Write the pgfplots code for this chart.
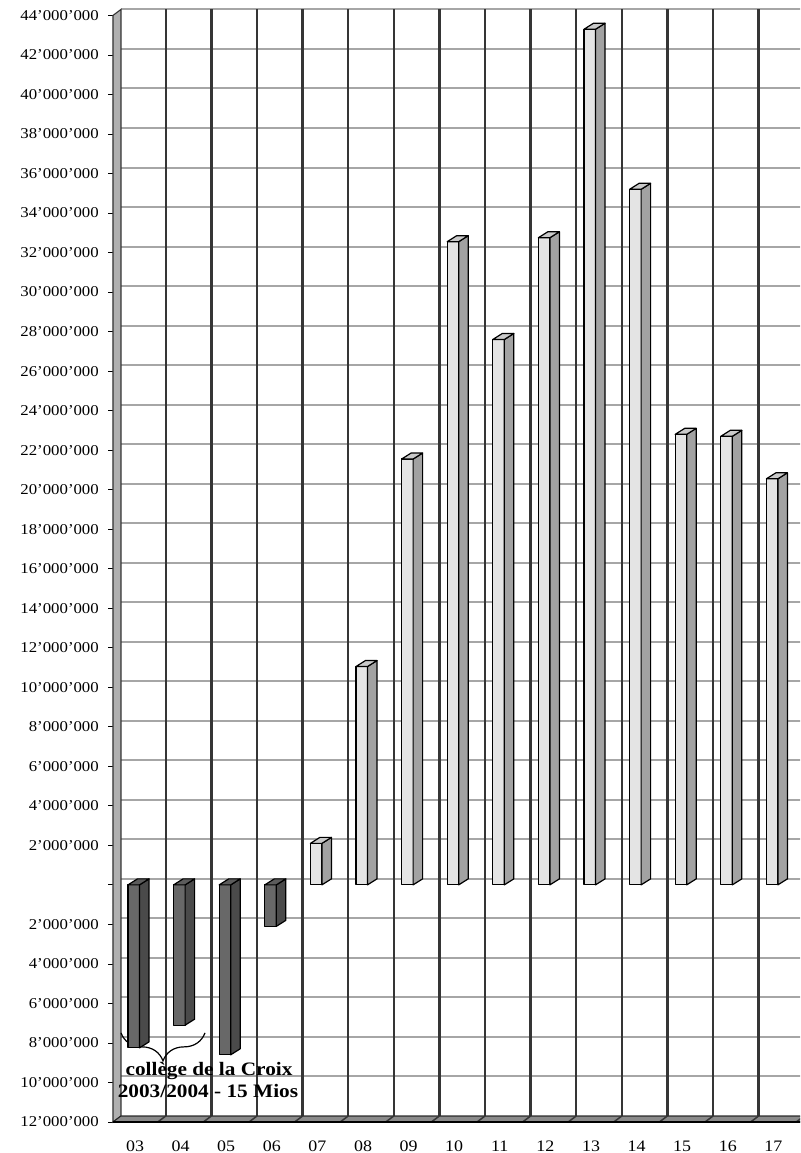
\documentclass[border=0pt]{standalone}
\usepackage{pgfplots}
\usepackage{pgfplotstable}
\pgfplotsset{compat=1.18}
\usepackage{fontspec}
\setmainfont{Liberation Serif}[FakeStretch=1.12]
\usetikzlibrary{decorations.pathreplacing}

\definecolor{posfront}{HTML}{E4E4E4}
\definecolor{posside}{HTML}{A2A2A2}
\definecolor{poscap}{HTML}{CACACA}
\definecolor{negfront}{HTML}{686868}
\definecolor{negside}{HTML}{4A4A4A}
\definecolor{negcap}{HTML}{5C5C5C}
\definecolor{hgrid}{HTML}{A6A6A6}
\definecolor{vgrid}{HTML}{353535}
\definecolor{wallc}{HTML}{B0B0B0}
\definecolor{floorc}{HTML}{8A8A8A}

\def\yu{19.76}
\pgfdeclareplotmark{bar3d}{%
  \pgfmathsetmacro\hh{-\val*\yu}%
  \ifdim\hh pt>0pt
    \edef\yt{\hh}\def\yb{0}%
    \def\cf{negfront}\def\cs{negside}\def\cc{negcap}%
  \else
    \def\yt{0}\edef\yb{\hh}%
    \def\cf{posfront}\def\cs{posside}\def\cc{poscap}%
  \fi
  \pgfsetlinewidth{1.2pt}\pgfsetstrokecolor{black}\pgfsetroundjoin
  \pgfsetfillcolor{\cf}%
  \pgfpathrectanglecorners{\pgfpoint{-7pt}{\yb pt}}{\pgfpoint{4.5pt}{\yt pt}}%
  \pgfusepath{fill,stroke}%
  \pgfsetfillcolor{\cs}%
  \pgfpathmoveto{\pgfpoint{4.5pt}{\yb pt}}%
  \pgfpathlineto{\pgfpoint{14pt}{\yb pt+6pt}}%
  \pgfpathlineto{\pgfpoint{14pt}{\yt pt+6pt}}%
  \pgfpathlineto{\pgfpoint{4.5pt}{\yt pt}}%
  \pgfpathclose\pgfusepath{fill,stroke}%
  \pgfsetfillcolor{\cc}%
  \pgfpathmoveto{\pgfpoint{-7pt}{\yt pt}}%
  \pgfpathlineto{\pgfpoint{4.5pt}{\yt pt}}%
  \pgfpathlineto{\pgfpoint{14pt}{\yt pt+6pt}}%
  \pgfpathlineto{\pgfpoint{2.5pt}{\yt pt+6pt}}%
  \pgfpathclose\pgfusepath{fill,stroke}%
}

% values in millions
\pgfplotstableread{
x v
0 -8.25
1 -7.1
2 -8.6
3 -2.1
4 2.1
5 11.05
6 21.55
7 32.55
8 27.6
9 32.75
10 43.3
11 35.2
12 22.8
13 22.7
14 20.55
}\datatable

\begin{document}
\begin{tikzpicture}
\useasboundingbox (-113pt,-31pt) rectangle (687pt,1122pt);
\clip (-113pt,-31pt) rectangle (687pt,1122pt);
\begin{axis}[
  at={(0pt,0pt)}, anchor=south west,
  x=45.6pt, y=19.76pt,
  xmin=-0.4825, xmax=14.583,
  ymin=-12, ymax=44,
  clip=false,
  axis line style={draw=none},
  tick pos=left,
  tick align=outside,
  major tick length=5pt,
  ytick={-12,-10,...,44},
  yticklabels={12'000'000,10'000'000,8'000'000,6'000'000,4'000'000,2'000'000,{},2'000'000,4'000'000,6'000'000,8'000'000,10'000'000,12'000'000,14'000'000,16'000'000,18'000'000,20'000'000,22'000'000,24'000'000,26'000'000,28'000'000,30'000'000,32'000'000,34'000'000,36'000'000,38'000'000,40'000'000,42'000'000,44'000'000},
  xtick={0,...,14},
  xticklabels={03,04,05,06,07,08,09,10,11,12,13,14,15,16,17},
  ytick style={black, line width=0.8pt},
  xtick style={draw=none},
  yticklabel style={font=\fontsize{15}{16}\selectfont, anchor=east, inner sep=0pt, xshift=-9pt},
  xticklabel style={font=\fontsize{16}{18}\selectfont, anchor=base, inner sep=0pt, text depth=0pt, yshift=-24pt},
]
% horizontal grid on back wall
\pgfplotsinvokeforeach{-12,-10,...,44}{
  \draw[hgrid, line width=2pt, shift={(8pt,6pt)}] (axis cs:-0.4825,#1) -- (axis cs:15.5,#1);
}
% vertical grid on back wall
\pgfplotsinvokeforeach{0.5,1.5,2.5,3.5,4.5,5.5,6.5,7.5,8.5,9.5,10.5,11.5,12.5,13.5,14.5}{
  \draw[vgrid, line width=2.3pt, shift={(8pt,6pt)}] (axis cs:#1,-12) -- (axis cs:#1,44);
}
% left wall
\filldraw[fill=wallc, draw=black!80, line width=1.1pt]
  (axis cs:-0.4825,-12) -- ([shift={(8pt,6pt)}]axis cs:-0.4825,-12)
  -- ([shift={(8pt,6pt)}]axis cs:-0.4825,44) -- (axis cs:-0.4825,44) -- cycle;
% floor
\filldraw[fill=floorc, draw=black!85, line width=1pt]
  (axis cs:-0.4825,-12) -- ([shift={(8pt,6pt)}]axis cs:-0.4825,-12)
  -- ([shift={(8pt,6pt)}]axis cs:15.5,-12) -- (axis cs:15.5,-12) -- cycle;
\pgfplotsinvokeforeach{0.5,1.5,2.5,3.5,4.5,5.5,6.5,7.5,8.5,9.5,10.5,11.5,12.5,13.5,14.5}{
  \draw[vgrid, line width=1.5pt] (axis cs:#1,-12) -- ([shift={(8pt,6pt)}]axis cs:#1,-12);
}
\draw[black, line width=1.8pt] (axis cs:-0.4825,-12) -- (axis cs:15.5,-12);
% bars
\addplot[only marks, mark=bar3d, visualization depends on={rawy\as\val}]
  table[x=x, y=v] {\datatable};
% annotation
\draw[decorate, decoration={brace, amplitude=28pt}, line width=1.2pt]
  (axis cs:1.535,-7.49) -- (axis cs:-0.307,-7.49);
\node[font=\bfseries\fontsize{19}{22}\selectfont, anchor=base, inner sep=0pt]
  at (axis cs:1.623,-9.64) {collège de la Croix};
\node[font=\bfseries\fontsize{19}{22}\selectfont, anchor=base, inner sep=0pt]
  at (axis cs:1.60,-10.78) {2003/2004 - 15 Mios};
\end{axis}
\end{tikzpicture}
\end{document}
